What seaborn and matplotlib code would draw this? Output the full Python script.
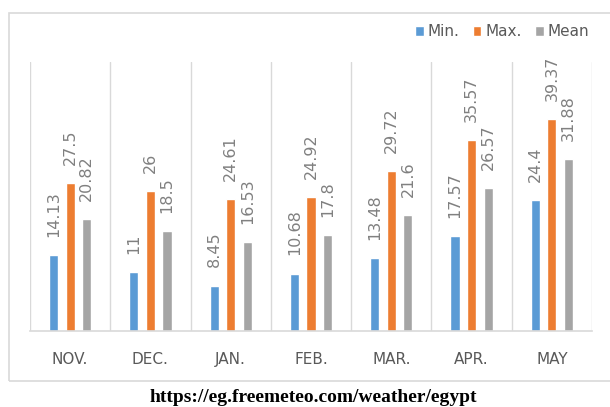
import matplotlib
matplotlib.use("Agg")
import matplotlib.pyplot as plt
from matplotlib.patches import Rectangle
import seaborn as sns
import pandas as pd

# Monthly temperatures (°C)
months = ["NOV.", "DEC.", "JAN.", "FEB.", "MAR.", "APR.", "MAY"]
series = ["Min.", "Max.", "Mean"]
min_vals = [14.13, 11, 8.45, 10.68, 13.48, 17.57, 24.4]
max_vals = [27.5, 26, 24.61, 24.92, 29.72, 35.57, 39.37]
mean_vals = [20.82, 18.5, 16.53, 17.8, 21.6, 26.57, 31.88]
source_text = "https://eg.freemeteo.com/weather/egypt"

colors = {"Min.": "#5b9bd5", "Max.": "#ed7d31", "Mean": "#a5a5a5"}

df = pd.DataFrame({
    "month": months * 3,
    "series": ["Min."] * 7 + ["Max."] * 7 + ["Mean"] * 7,
    "value": min_vals + max_vals + mean_vals,
})

sns.set_theme(style="white")
plt.rcParams["font.family"] = ["DejaVu Sans"]

fig = plt.figure(figsize=(6.10, 4.07), dpi=100)
fig.patch.set_facecolor("white")

# outer chart frame
fig.patches.append(Rectangle((9 / 610, 1 - 381 / 407), 1.2, (381 - 13) / 407,
                             transform=fig.transFigure, fill=False,
                             edgecolor="#d9d9d9", linewidth=1.2, zorder=0))

ax = fig.add_axes([30 / 610, 1 - 331 / 407, (592 - 30) / 610, (331 - 62) / 407])
sns.barplot(data=df, x="month", y="value", hue="series", order=months,
            hue_order=series, palette=colors, width=0.62, gap=0.45,
            saturation=1, ax=ax, legend=True)

ax.set_ylim(0, 50)
ax.set_xlim(-0.5, len(months) - 0.5)
for x in range(len(months) + 1):
    ax.axvline(x - 0.5, color="#d9d9d9", linewidth=1, zorder=0)

for s in ["top", "right", "left"]:
    ax.spines[s].set_visible(False)
ax.spines["bottom"].set_color("#d9d9d9")
ax.spines["bottom"].set_linewidth(1.2)
ax.set_yticks([])
ax.set_xlabel("")
ax.set_ylabel("")
ax.tick_params(axis="x", length=0, pad=15, labelsize=11, labelcolor="#595959")

for cont in ax.containers:
    vals = [b.get_height() for b in cont]
    ax.bar_label(cont, labels=[f"{v:g}" for v in vals], rotation=90,
                 padding=13, fontsize=11.5, color="#808080")

handles, labels = ax.get_legend_handles_labels()
ax.legend(handles, labels, loc="center right", bbox_to_anchor=(603 / 610, 1 - 32 / 407),
          bbox_transform=fig.transFigure, ncol=3, frameon=False,
          handlelength=0.55, handleheight=0.55, handletextpad=0.25,
          columnspacing=0.9, labelcolor="#595959",
          prop={"family": ["DejaVu Sans"], "size": 11})

fig.text(313 / 610, 1 - 397 / 407, source_text, ha="center", va="center",
         family=["Liberation Serif", "DejaVu Serif"], fontweight="bold",
         fontsize=14, color="black")

fig.savefig("out.png", dpi=100, facecolor="white")
